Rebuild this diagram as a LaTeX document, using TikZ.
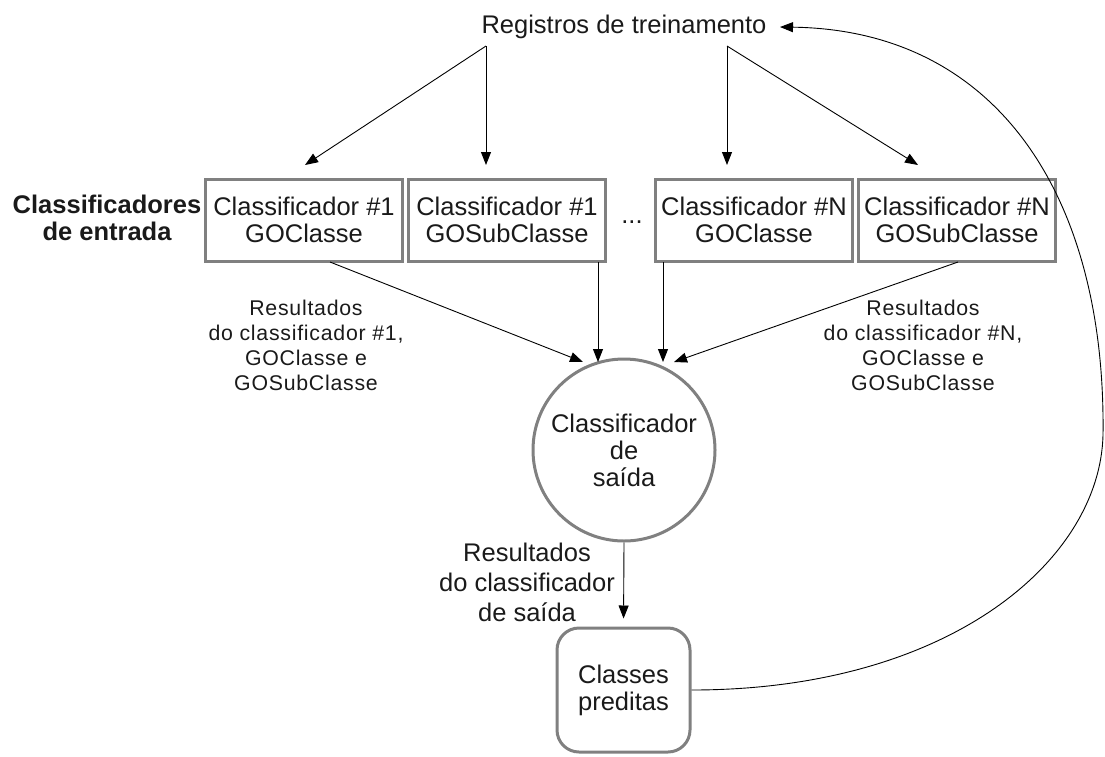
\documentclass[tikz,border=0pt]{standalone}
\usepackage{fontspec}
\setmainfont{Liberation Sans}
\newfontfamily\notefont[LetterSpace=3.5]{Liberation Sans}
\usetikzlibrary{arrows.meta}
\definecolor{edge}{HTML}{808080}
\definecolor{ink}{HTML}{1A1A1A}
\begin{document}
\begin{tikzpicture}[x=1pt,y=-1pt,
  txt/.style={text=ink, align=center, inner sep=0pt, font=\fontsize{25.5}{27}\selectfont},
  note/.style={text=ink, align=center, inner sep=0pt, font=\notefont\fontsize{21.3}{25}\selectfont},
  clsbox/.style={txt, draw=edge, line width=3pt, minimum width=197pt, minimum height=82pt},
  arr/.style={-{Triangle[length=13pt,width=10pt]}, line width=0.9pt, draw=black}
]
\useasboundingbox (0,0) rectangle (1105,756);

% training records and the fan-out points below it
\node[txt] (reg) at (624,27) {Registros de treinamento};
\coordinate (tl) at (486,46);
\coordinate (tr) at (727,46);

% input classifiers
\node[txt, font=\bfseries\fontsize{25.5}{27}\selectfont] (lbl) at (107,218) {Classificadores\\de entrada};
\node[clsbox] (b1) at (304,220) {Classificador \#1\\GOClasse};
\node[clsbox] (b2) at (507,220) {Classificador \#1\\GOSubClasse};
\node[txt] (dots) at (632,222) {...};
\node[clsbox] (b3) at (754,220) {Classificador \#N\\GOClasse};
\node[clsbox] (b4) at (957,220) {Classificador \#N\\GOSubClasse};

% arrow ends above the boxes
\coordinate (b1in) at (305,165);
\coordinate (b2in) at (486,165);
\coordinate (b3in) at (727,165);
\coordinate (b4in) at (918,165);

\draw[arr] (tl) -- (b1in);
\draw[arr] (tl) -- (b2in);
\draw[arr] (tr) -- (b3in);
\draw[arr] (tr) -- (b4in);

% output classifier
\node[txt, draw=edge, line width=3pt, circle, minimum size=182pt] (out) at (624,450) {Classificador\\de\\saída};

\coordinate (b1out) at (330,262);
\coordinate (b2out) at (598,262);
\coordinate (b3out) at (663,262);
\coordinate (b4out) at (958,262);
\coordinate (o1) at (583,362);
\coordinate (o2) at (598,362);
\coordinate (o3) at (663,362);
\coordinate (o4) at (674,362);
\draw[arr] (b1out) -- (o1);
\draw[arr] (b2out) -- (o2);
\draw[arr] (b3out) -- (o3);
\draw[arr] (b4out) -- (o4);

\node[note] (n1) at (306,345) {Resultados\\do classificador \#1,\\GOClasse e\\GOSubClasse};
\node[note] (n2) at (923,345) {Resultados\\do classificador \#N,\\GOClasse e\\GOSubClasse};

% predicted classes
\node[txt, draw=edge, line width=3pt, rounded corners=22pt, minimum width=133pt, minimum height=124pt] (pred) at (623.5,690) {Classes\\preditas};
\draw[arr, shorten >=8pt] (out.south) -- (pred.north);
\node[txt, font=\fontsize{25.5}{30}\selectfont] (n3) at (527,582) {Resultados\\do classificador\\de saída};

% feedback to the training records
\coordinate (rc) at (1103,435);
\coordinate (regin) at (780,27);
\draw[arr] (pred.east) .. controls (950,690) and (1100,560) .. (rc)
  .. controls (1106,200) and (1000,30) .. (regin);
\end{tikzpicture}
\end{document}
